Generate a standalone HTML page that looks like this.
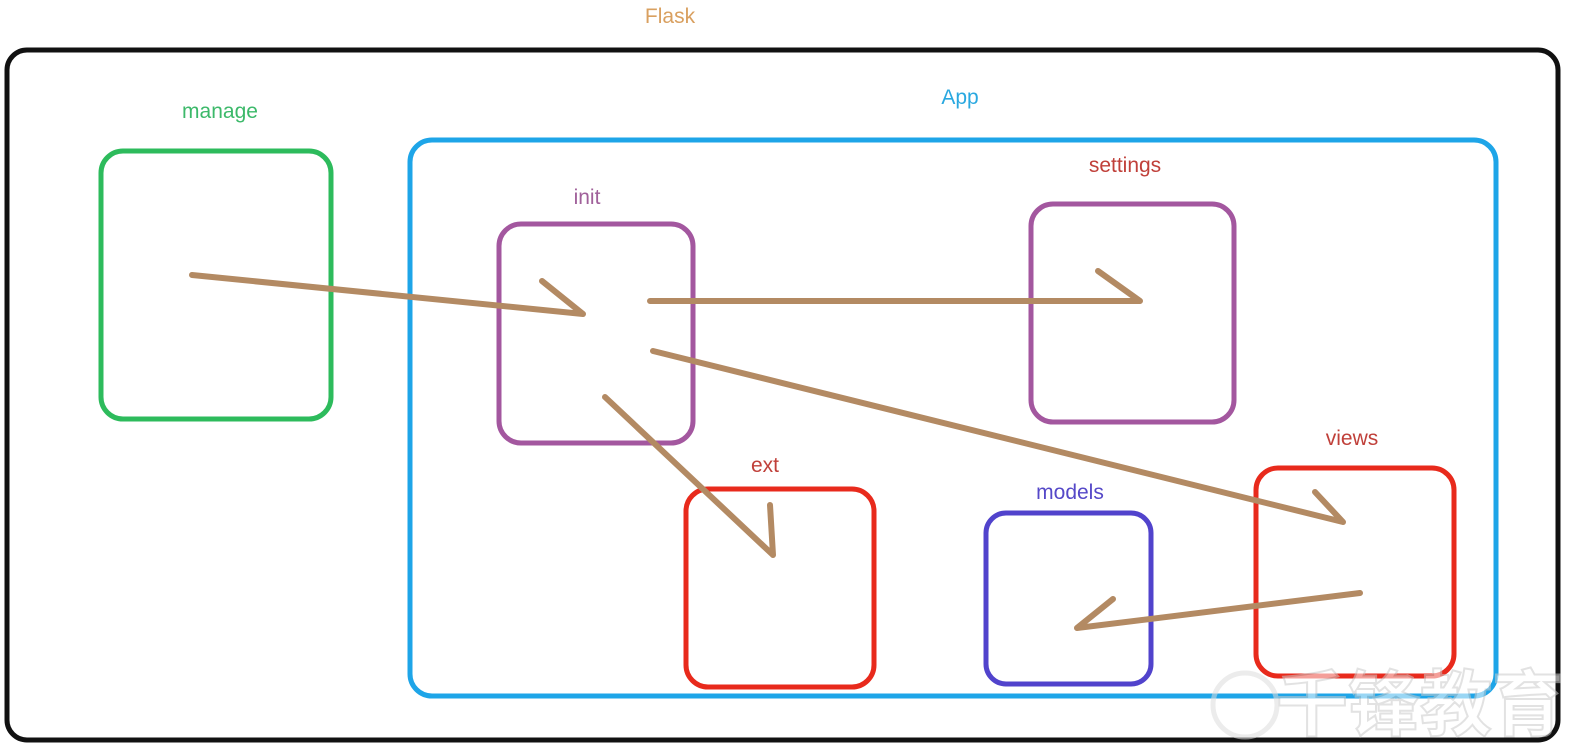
<!DOCTYPE html>
<html><head><meta charset="utf-8"><style>
html,body{margin:0;padding:0;background:#fff;width:1585px;height:755px;overflow:hidden}
svg{display:block}
</style></head><body>
<svg width="1585" height="755" viewBox="0 0 1585 755" xmlns="http://www.w3.org/2000/svg">
<g font-family="Liberation Sans, sans-serif" font-size="21" text-anchor="middle">
<text x="670" y="23" fill="#d9a060">Flask</text>
<text x="960" y="104" fill="#29a8e0">App</text>
<text x="220" y="118" fill="#3cb96a">manage</text>
<text x="587" y="204" fill="#a0609a">init</text>
<text x="1125" y="172" fill="#c0403a">settings</text>
<text x="1352" y="445" fill="#c0403a">views</text>
<text x="765" y="472" fill="#c0403a">ext</text>
<text x="1070" y="499" fill="#5548c8">models</text>
</g>
<g fill="none" stroke-width="5">
<rect x="7" y="50" width="1551" height="690" rx="20" stroke="#111"/>
<rect x="410" y="140" width="1086" height="556" rx="22" stroke="#1ea5e8"/>
<rect x="101" y="151" width="230" height="268" rx="22" stroke="#2dbb5c"/>
<rect x="499" y="224" width="194" height="219" rx="22" stroke="#a3579f"/>
<rect x="1031" y="204" width="203" height="218" rx="22" stroke="#a3579f"/>
<rect x="1256" y="468" width="198" height="208" rx="22" stroke="#e82a1c"/>
<rect x="686" y="489" width="188" height="198" rx="22" stroke="#e82a1c"/>
<rect x="986" y="513" width="165" height="171" rx="20" stroke="#5143cc"/>
</g>
<g fill="none" stroke="#b38a63" stroke-width="6" stroke-linecap="round" stroke-linejoin="round">
<path d="M192 275 L583 314 M542 281 L583 314"/>
<path d="M650 301 L1140 301 M1098 271 L1140 301"/>
<path d="M653 351 L1343 522 M1315 492 L1343 522"/>
<path d="M605 397 L773 555 M770 505 L773 555"/>
<path d="M1360 593 L1077 628 M1113 599 L1077 628"/>
</g>
<g opacity="0.55">
<circle cx="1245" cy="705" r="32" fill="none" stroke="#ddd" stroke-width="5"/>
<text x="1420" y="730" font-family="Noto Sans CJK SC, sans-serif" font-size="72" font-weight="bold" text-anchor="middle" fill="#fff" stroke="#ccc" stroke-width="2">千锋教育</text>
</g>
</svg>
</body></html>
